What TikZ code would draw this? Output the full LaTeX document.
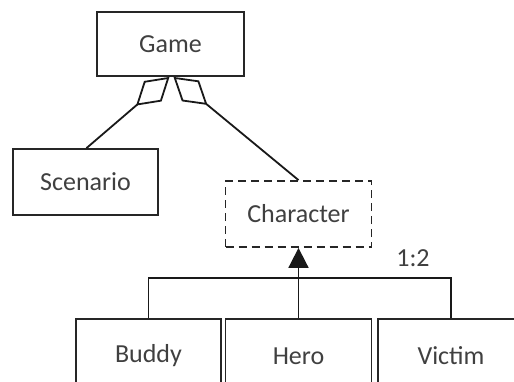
\documentclass[tikz,border=0pt]{standalone}
\usepackage{fontspec}
\setmainfont{Carlito}
\usetikzlibrary{arrows.meta}
\begin{document}
\begin{tikzpicture}[x=1pt,y=-1pt,
  line width=1.8pt,
  connector/.style={draw=black!90},
  label text/.style={text=black!75, font=\fontsize{26}{30}\selectfont},
  box/.style={label text, draw=black!85, line width=1.8pt, inner sep=0pt,
    minimum width=146pt, minimum height=65pt},
  abstractbox/.style={box, dash pattern=on 8pt off 5pt},
  leafbox/.style={box, minimum height=74pt},
  aggregation/.style={connector, {Diamond[open,length=44pt,width=27pt]}-},
  generalization/.style={connector, -{Triangle[length=20pt,width=20pt]}}]
  \useasboundingbox (0,0) rectangle (514,381);
  \clip (0,0) rectangle (514,381);

  % classes
  \node[box, minimum width=147pt, minimum height=64pt] (game) at (170.5,44) {Game};
  \node[box, minimum width=145pt, minimum height=66pt] (scen) at (85.5,182) {Scenario};
  \node[abstractbox, minimum height=66pt] (char) at (298.5,214) {Character};
  \node[leafbox, minimum width=145pt] (buddy) at (148.5,356) {Buddy};
  \node[leafbox] (hero) at (298.5,356) {Hero};
  \node[leafbox] (victim) at (451,356) {Victim};

  % aggregations of Game
  \draw[aggregation] ([xshift=-1pt]game.south) -- ([xshift=1pt]scen.north);
  \draw[aggregation] ([xshift=3pt]game.south) -- (char.north);

  % generalization of Character
  \draw[connector] (buddy.north) -- ++(0,-40) -| (victim.north);
  \draw[generalization] (hero.north) -- (char.south);
  \node[label text] (mult) at (413,258) {1:2};
\end{tikzpicture}
\end{document}
